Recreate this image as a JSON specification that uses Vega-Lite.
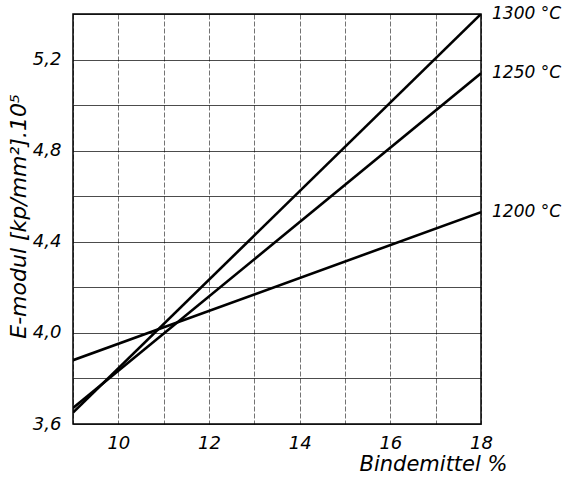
{
  "$schema": "https://vega.github.io/schema/vega-lite/v6.json",
  "width": 408,
  "height": 410,
  "autosize": "none",
  "padding": {"left": 73, "top": 14, "right": 83, "bottom": 57},
  "background": "white",
  "config": {
    "view": {"stroke": "black", "strokeWidth": 1.5},
    "font": "DejaVu Sans"
  },
  "data": {
    "values": [
      {"series": "1200 °C", "x": 9, "y": 3.88},
      {"series": "1200 °C", "x": 18, "y": 4.53},
      {"series": "1250 °C", "x": 9, "y": 3.67},
      {"series": "1250 °C", "x": 18, "y": 5.14},
      {"series": "1300 °C", "x": 9, "y": 3.65},
      {"series": "1300 °C", "x": 18, "y": 5.4}
    ]
  },
  "encoding": {
    "x": {
      "field": "x", "type": "quantitative",
      "scale": {"domain": [9, 18], "nice": false, "zero": false},
      "axis": {
        "values": [9, 10, 11, 12, 13, 14, 15, 16, 17, 18],
        "labelExpr": "datum.value % 2 == 0 ? datum.label : ''",
        "title": "Bindemittel %",
        "titleFont": "DejaVu Sans", "titleFontStyle": "italic", "titleFontWeight": "normal",
        "titleFontSize": 21, "titleColor": "black",
        "titleAlign": "right", "titleAnchor": "end", "titleX": 434, "titleY": 46, "titleBaseline": "alphabetic",
        "labelFont": "DejaVu Sans", "labelFontStyle": "italic", "labelFontSize": 18, "labelColor": "black",
        "labelPadding": 10, "labelFlush": false,
        "tickSize": 0, "domain": false,
        "grid": true, "gridColor": "black", "gridOpacity": 0.55, "gridWidth": 1, "gridDash": [5, 2]
      }
    },
    "y": {
      "field": "y", "type": "quantitative",
      "scale": {"domain": [3.6, 5.4], "nice": false, "zero": false},
      "axis": {
        "values": [3.6, 3.8, 4.0, 4.2, 4.4, 4.6, 4.8, 5.0, 5.2, 5.4],
        "labelExpr": "round(datum.value*10) % 4 == 0 ? replace(format(datum.value, '.1f'), '.', ',') : ''",
        "title": "E-modul [kp/mm²].10⁵",
        "titleFont": "DejaVu Sans", "titleFontStyle": "italic", "titleFontWeight": "normal",
        "titleFontSize": 22, "titleColor": "black", "titleX": -55, "titleY": 202, "titleBaseline": "middle", "titleAngle": -90,
        "labelFont": "DejaVu Sans", "labelFontStyle": "italic", "labelFontSize": 18, "labelColor": "black",
        "labelPadding": 12, "labelFlush": false,
        "tickSize": 0, "domain": false,
        "grid": true, "gridColor": "black", "gridOpacity": 0.7, "gridWidth": 1
      }
    }
  },
  "layer": [
    {
      "mark": {"type": "line", "color": "black", "strokeWidth": 2.6, "clip": true},
      "encoding": {"detail": {"field": "series"}}
    },
    {
      "transform": [{"filter": "datum.x == 18"}],
      "mark": {"type": "text", "align": "left", "baseline": "middle", "dx": 11, "fontSize": 17, "fontStyle": "italic", "font": "DejaVu Sans", "color": "black"},
      "encoding": {"text": {"field": "series"}}
    }
  ]
}
